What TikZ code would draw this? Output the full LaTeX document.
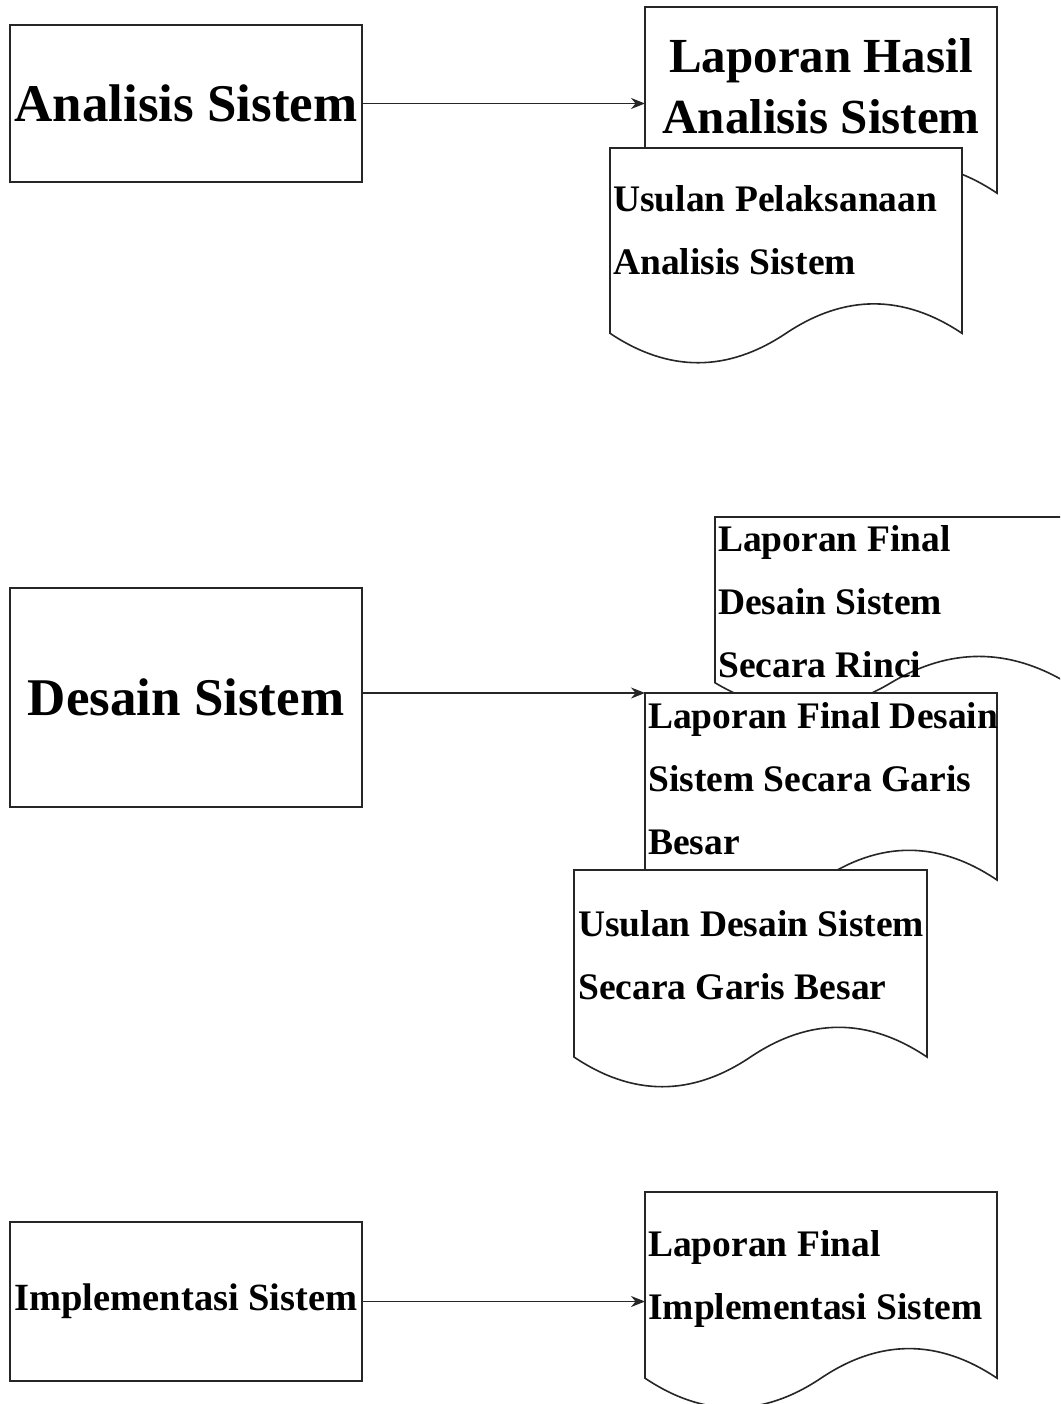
\documentclass[tikz,border=0pt]{standalone}
\usepackage{fontspec}
\setmainfont{Liberation Serif}
\usetikzlibrary{arrows.meta,calc}
\newcommand\docshape[3]{%
  \begin{scope}[shift={(#1.north west)}]
    \draw[docline] (0,0) -- (#2,0) -- (#2,0.85*#3)
      .. controls (5*#2/6,0.67*#3) and (2*#2/3,0.67*#3) .. (#2/2,0.85*#3)
      .. controls (#2/3,1.03*#3) and (#2/6,1.03*#3) .. (0,0.85*#3) -- cycle;
  \end{scope}}
\begin{document}
\begin{tikzpicture}[x=1pt,y=-1pt,
  docline/.style={draw=black!85, line width=1.6pt, fill=white},
  procbox/.style={draw=black!85, line width=1.6pt, fill=white, anchor=north west,
    minimum width=352pt, inner sep=0pt, outer sep=0pt, font=\bfseries\fontsize{53}{60}\selectfont},
  smallbox/.style={procbox, font=\bfseries\fontsize{38.5}{44}\selectfont},
  docframe/.style={anchor=north west, inner sep=0pt, outer sep=0pt, minimum width=352pt},
  doctxt/.style={anchor=base west, align=left, inner sep=0pt, font=\bfseries\fontsize{37.5}{63}\selectfont},
  bigtxt/.style={anchor=base, align=center, inner sep=0pt, font=\bfseries\fontsize{49}{61}\selectfont},
  flow/.style={draw=black!85, line width=1.6pt, -{Stealth[length=14pt,width=11pt]}}]
\useasboundingbox (0,0) rectangle (1060,1404);
\clip (0,0) rectangle (1060,1404);
\fill[white] (0,0) rectangle (1060,1404);

% ---- Analisis
\node[procbox, minimum height=157pt] (b1) at (10,25) {Analisis Sistem};
\node[docframe, minimum height=219pt] (d1) at (645,7) {};
\node[docframe, minimum height=218pt] (d2) at (610,148) {};
\docshape{d1}{352}{219}
\node[bigtxt] (t1) at (821,134) {Laporan Hasil\\Analisis Sistem};
\docshape{d2}{352}{218}
\node[doctxt] (t2) at (613,275) {Usulan Pelaksanaan\\Analisis Sistem};
\draw[flow] (b1.east) -- (b1.east -| d1.west);

% ---- Desain
\node[procbox, minimum height=219pt] (b2) at (10,588) {Desain Sistem};
\node[docframe, minimum height=195pt] (d3) at (715,517) {};
\node[docframe, minimum height=220pt] (d4) at (645,693) {};
\node[docframe, minimum height=220pt] (d5) at (574,870) {};
\docshape{d3}{352}{195}
\node[doctxt] (t3) at (718,677) {Laporan Final\\Desain Sistem\\Secara Rinci};
\docshape{d4}{352}{220}
\node[doctxt] (t4) at (648,854) {Laporan Final Desain\\Sistem Secara Garis\\Besar};
\docshape{d5}{353}{220}
\node[doctxt] (t5) at (578,999) {Usulan Desain Sistem\\Secara Garis Besar};
\draw[flow] (b2.east |- d4.north west) -- (d4.north west);

% ---- Implementasi
\node[smallbox, minimum height=159pt] (b3) at (10,1222) {Implementasi Sistem};
\node[docframe, minimum height=219pt] (d6) at (645,1192) {};
\docshape{d6}{352}{219}
\node[doctxt] (t6) at (648,1319) {Laporan Final\\Implementasi Sistem};
\draw[flow] (b3.east) -- (b3.east -| d6.west);
\end{tikzpicture}
\end{document}
